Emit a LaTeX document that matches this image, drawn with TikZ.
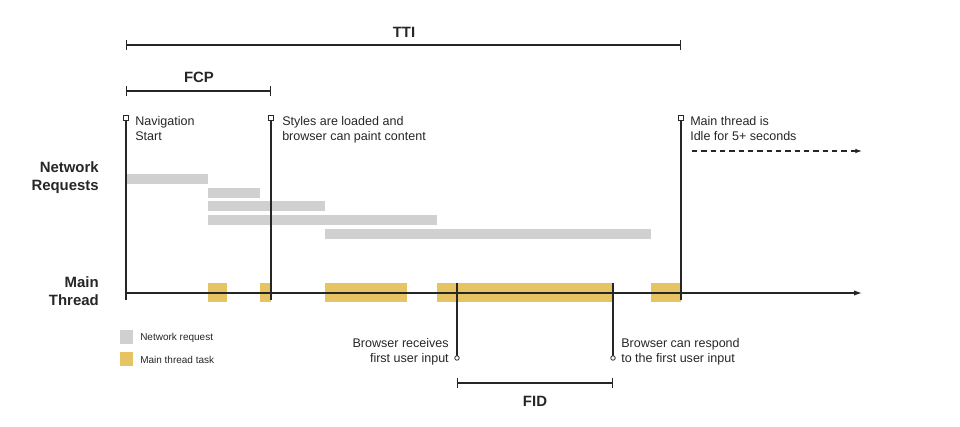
\documentclass[tikz,border=0pt]{standalone}
\usepackage{fontspec}
\setmainfont{Liberation Sans}
\usetikzlibrary{arrows.meta}
\definecolor{netgray}{HTML}{D0D0D0}
\definecolor{taskyel}{HTML}{E6C464}
\definecolor{ink}{HTML}{262626}
\tikzset{
  lbl/.style={font=\fontsize{9.4pt}{11.3pt}\selectfont, text=ink, inner sep=0pt, align=left},
  hdr/.style={font=\bfseries\fontsize{11.2pt}{13.3pt}\selectfont, text=ink, inner sep=0pt, align=right},
  leg/.style={font=\fontsize{7.5pt}{9pt}\selectfont, text=ink, inner sep=0pt, anchor=west},
  ln/.style={draw=ink, line width=0.9pt},
  netbar/.style={fill=netgray, draw=none},
  task/.style={fill=taskyel, draw=none},
  sqmark/.style={draw=ink, fill=white, line width=0.6pt, minimum size=3.2pt, inner sep=0pt, rectangle},
  cmark/.style={draw=ink, fill=white, line width=0.6pt, minimum size=3.4pt, inner sep=0pt, circle},
  span/.style={ln, {Bar[width=7pt]}-{Bar[width=7pt]}},
}
\begin{document}
\begin{tikzpicture}[x=0.75pt,y=-0.75pt]
\useasboundingbox (0,0) rectangle (960,427);
% network bars
\fill[netgray] (126,174) rectangle (208,184);
\fill[netgray] (208,188) rectangle (260,198);
\fill[netgray] (208,201) rectangle (325,211);
\fill[netgray] (208,215) rectangle (437,225);
\fill[netgray] (325,229) rectangle (651,239);
% main thread tasks
\fill[taskyel] (208,283) rectangle (227,302);
\fill[taskyel] (260,283) rectangle (271,302);
\fill[taskyel] (325,283) rectangle (407,302);
\fill[taskyel] (437,283) rectangle (613,302);
\fill[taskyel] (651,283) rectangle (681,302);
% axis
\coordinate (ax0) at (126,293);
\coordinate (ax1) at (862,293);
\draw[ln, -{Latex[length=6pt,width=4pt]}] (ax0) -- (ax1);
% spans
\coordinate (tti0) at (126,45); \coordinate (tti1) at (681,45);
\draw[span] (tti0) -- (tti1);
\node[hdr] (ttil) at (404,32) {TTI};
\coordinate (fcp0) at (126,91); \coordinate (fcp1) at (271,91);
\draw[span] (fcp0) -- (fcp1);
\node[hdr] (fcpl) at (199,77) {FCP};
\coordinate (fid0) at (457,383); \coordinate (fid1) at (613,383);
\draw[span] (fid0) -- (fid1);
\node[hdr] (fidl) at (535,401) {FID};
% verticals with top markers
\coordinate (v1b) at (126,300);
\coordinate (v2b) at (271,300);
\coordinate (v3b) at (681,300);
\draw[ln] (126,119) -- (v1b);
\draw[ln] (271,119) -- (v2b);
\draw[ln] (681,119) -- (v3b);
\node[sqmark] (m1) at (126,118) {};
\node[sqmark] (m2) at (271,118) {};
\node[sqmark] (m3) at (681,118) {};
% FID verticals
\coordinate (f1t) at (457,283);
\coordinate (f2t) at (613,283);
\draw[ln] (f1t) -- (457,356);
\draw[ln] (f2t) -- (613,356);
\node[cmark] (c1) at (457,358) {};
\node[cmark] (c2) at (613,358) {};
% labels
\node[lbl, anchor=north west] (nav) at (135,116) {Navigation\\Start};
\node[lbl, anchor=north west] (sty) at (282,116) {Styles are loaded and\\browser can paint content};
\node[lbl, anchor=north west] (idle) at (690,116) {Main thread is\\Idle for 5+ seconds};
\node[lbl, anchor=south east, align=right] (recv) at (449,365) {Browser receives\\first user input};
\node[lbl, anchor=south west] (resp) at (621,365) {Browser can respond\\to the first user input};
\node[hdr, anchor=east] (netl) at (99,178) {Network\\Requests};
\node[hdr, anchor=east] (mainl) at (99,291) {Main\\Thread};
% dashed arrow
\coordinate (d0) at (692,151); \coordinate (d1) at (862,151);
\draw[ln, dashed, dash pattern=on 4pt off 3pt, -{Latex[length=5pt,width=3.5pt]}] (d0) -- (d1);
% legend
\fill[netgray] (120,330) rectangle (133,344);
\node[leg] (legn) at (140,337.5) {Network request};
\fill[taskyel] (120,352) rectangle (133,366);
\node[leg] (legt) at (140,359.5) {Main thread task};
\end{tikzpicture}
\end{document}
